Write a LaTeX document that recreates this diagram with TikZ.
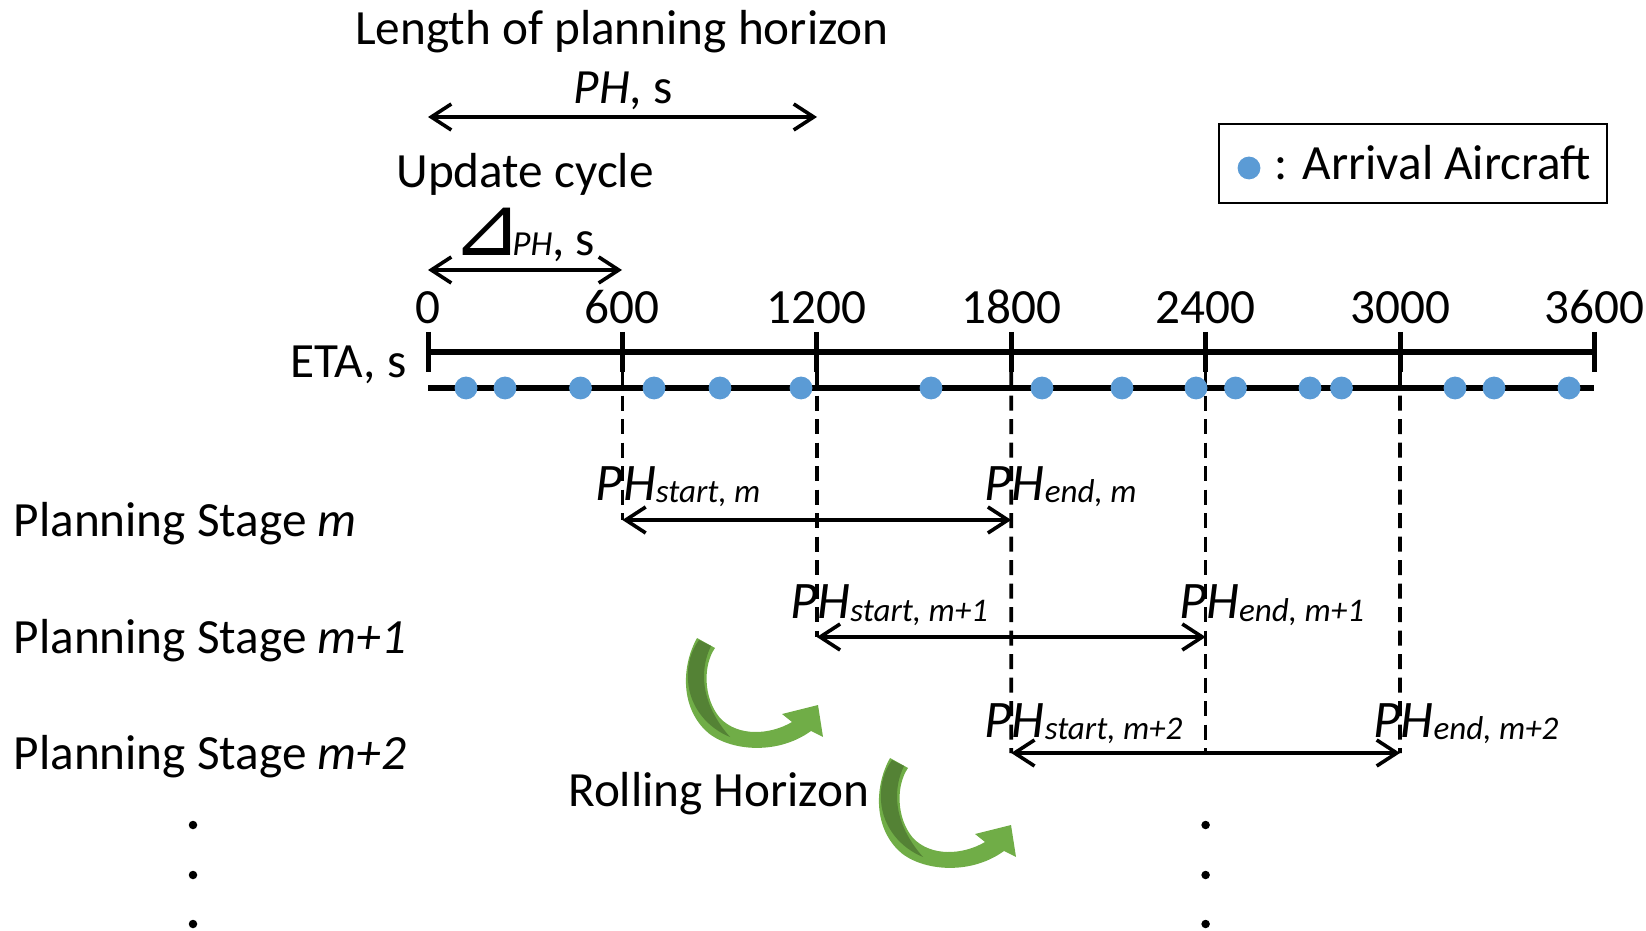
\documentclass[tikz,border=0pt]{standalone}
\usepackage{fontspec}
\setmainfont{Carlito}
\newfontfamily\symfont{DejaVu Sans}
\usetikzlibrary{arrows.meta}
\definecolor{dotblue}{HTML}{5B9BD5}
\definecolor{leafgreen}{HTML}{70AD47}
\definecolor{deepgreen}{HTML}{548235}
% planning-horizon label: the guide line runs between P and H
\newcommand\phmark[2]{\llap{\textit{P}}\textit{H}\raisebox{-0.02cm}{\fontsize{9.4}{11}\selectfont\textit{#1, #2}}}
\begin{document}
\begin{tikzpicture}[x=0.01cm,y=-0.01cm,
  txt/.style={inner sep=0pt,font=\fontsize{14}{17}\selectfont},
  phtxt/.style={inner sep=0pt,anchor=base west,font=\fontsize{15}{18}\selectfont},
  axisline/.style={line width=0.058cm},
  tickmark/.style={line width=0.05cm},
  guide/.style={line width=0.036cm,dash pattern=on 0.15cm off 0.085cm},
  span/.style={line width=0.036cm,
    {Straight Barb[length=0.2cm,width=0.26cm]}-{Straight Barb[length=0.2cm,width=0.26cm]}},
  plane/.style={circle,fill=dotblue,inner sep=0pt,minimum size=0.228cm},
  ellip/.style={circle,fill=black,inner sep=0pt,minimum size=0.085cm},
  legendbox/.style={draw,line width=0.022cm,inner sep=0pt,minimum width=3.88cm,minimum height=0.79cm}]
\useasboundingbox (0,0) rectangle (1646,931);

% ---- header: planning horizon length and update cycle
\node[txt,anchor=base] (lenlab) at (622,45) {Length of planning horizon};
\node[txt,anchor=base] (phlab) at (623,104) {\textit{PH}, s};
\coordinate (p0) at (428,117);
\coordinate (p2) at (817,117);
\draw[span] (p0) -- (p2);
\node[txt,anchor=base] (updlab) at (525,188) {Update cycle};
\node[txt,anchor=base west] (dltlab) at (451,256)
  {\smash{\symfont\fontsize{24}{26}\selectfont ⊿}\kern-0.1cm{\fontsize{10}{12}\selectfont\textit{PH}}, s};
\coordinate (u0) at (428,270);
\coordinate (u1) at (622,270);
\draw[span] (u0) -- (u1);

% ---- ETA axis
\foreach \i/\v in {0/0,1/600,2/1200,3/1800,4/2400,5/3000,6/3600} {
  \coordinate (t\i) at ({428+194.4*\i},352);
  \coordinate (g\i) at ({428+194.4*\i},372);
  \draw[tickmark] ({428+194.4*\i},332) -- (g\i);
  \node[txt,anchor=base] (tl\i) at ({428+194.4*\i},324) {\v};
}
\draw[axisline] (t0) -- (t6);
\node[txt,anchor=base east] (etalab) at (407,378) {ETA, s};
\coordinate (r0) at (428,388);
\coordinate (r6) at (1594.4,388);
\draw[axisline] (r0) -- (r6);

% ---- planning stages
\coordinate (a1s) at (622.4,520);
\coordinate (a1e) at (1011.2,520);
\coordinate (a2s) at (816.8,637);
\coordinate (a2e) at (1205.6,637);
\coordinate (a3s) at (1011.2,753);
\coordinate (a3m) at (1205.6,753);
\coordinate (a3e) at (1400,753);
\draw[guide] (g1) -- (a1s);
\draw[guide] (g2) -- (a2s);
\draw[guide] (g3) -- (a3s);
\draw[guide] (g4) -- (a3m);
\draw[guide] (g5) -- (a3e);
\draw[span] (a1s) -- (a1e);
\draw[span] (a2s) -- (a2e);
\draw[span] (a3s) -- (a3e);

\node[phtxt] (s1) at (622.4,501) {\phmark{start}{m}};
\node[phtxt] (e1) at (1011.2,501) {\phmark{end}{m}};
\node[phtxt] (s2) at (816.8,619) {\phmark{start}{m+1}};
\node[phtxt] (e2) at (1205.6,619) {\phmark{end}{m+1}};
\node[phtxt] (s3) at (1011.2,737) {\phmark{start}{m+2}};
\node[phtxt] (e3) at (1400,737) {\phmark{end}{m+2}};

\node[txt,anchor=base west] (stg1) at (13,537) {Planning Stage \textit{m}};
\node[txt,anchor=base west] (stg2) at (13,653) {Planning Stage \textit{m+1}};
\node[txt,anchor=base west] (stg3) at (13,769) {Planning Stage \textit{m+2}};

\foreach \y [count=\k] in {825,875,924} {
  \node[ellip] (la\k) at (193,\y) {};
  \node[ellip] (ra\k) at (1205.6,\y) {};
}

% ---- rolling horizon arrows
\node[txt,anchor=base east] (rolllab) at (870,806) {Rolling Horizon};
\foreach \dx/\dy [count=\k] in {0/0,193/120} {
  \begin{scope}[shift={(\dx,\dy)}]
    \fill[leafgreen] (697,638) .. controls (682,665) and (680,705) .. (705,730)
      .. controls (725,750) and (775,757) .. (811,731) -- (823,737) -- (818,705)
      -- (782,714) -- (792,722) .. controls (770,735) and (738,737) .. (720,718)
      .. controls (703,698) and (703,665) .. (715,648) -- cycle;
    \fill[deepgreen] (699,640) -- (711,646) .. controls (700,668) and (699,702) .. (730,737)
      .. controls (708,728) and (690,708) .. (688,681)
      .. controls (687,664) and (691,651) .. (699,640) -- cycle;
  \end{scope}
}

% ---- arrival aircraft
\foreach \x [count=\k] in {466,505,580.5,654,720,801,931,1042,1122,1196,1235.5,1310,1341.5,1455,1494,1569} {
  \node[plane] (ac\k) at (\x,388) {};
}

% ---- legend
\node[legendbox] (legend) at (1413,163.5) {};
\node[plane] (legdot) at (1249,168) {};
\node[txt,anchor=base west] (legtxt) at (1274,180) {: Arrival Aircraft};
\end{tikzpicture}
\end{document}
